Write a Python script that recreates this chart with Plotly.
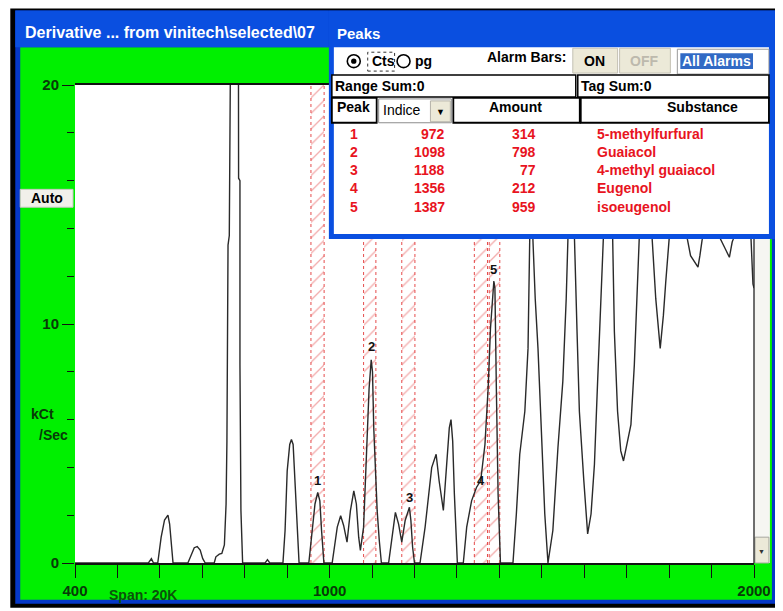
import plotly.graph_objects as go

# ---------------- data ----------------
trace_x = [400, 573, 580, 585, 595, 603, 611, 619, 623, 627, 631,
           666, 674, 681, 688, 695, 701, 707,
           728, 732, 740, 746, 752, 756, 758, 759.6, 760.6, 763.6, 765, 766, 775, 784.5, 785.5, 788.7, 788.7, 791, 795,
           848, 853.5, 859,
           890, 895, 900, 906, 910, 914, 918.5, 922.5, 926, 928,
           951, 959, 965.5, 972, 977, 981, 986.5,
           1006, 1018, 1026, 1033, 1041, 1049, 1057, 1063, 1068.5, 1072.5, 1080, 1086, 1093, 1098, 1101, 1104, 1109, 1112, 1117, 1122,
           1139, 1147, 1155, 1162.5, 1170, 1178, 1188, 1191.5, 1195.5, 1200,
           1213, 1225, 1233, 1240.5, 1251, 1258, 1268, 1276, 1282, 1286, 1290, 1294, 1298, 1301,
           1315, 1323, 1334.5, 1346, 1356, 1366, 1373.5, 1379, 1387, 1389.5, 1393, 1397, 1402.5,
           1432, 1440, 1448, 1460, 1467.5, 1471.5, 1475, 1479, 1484.5, 1491, 1499, 1507, 1514.5,
           1526, 1538, 1549.5, 1557.5, 1561.5, 1569, 1577, 1583, 1588.5, 1599, 1608,
           1616, 1624, 1631.5, 1639.5, 1643.5, 1655, 1667, 1671, 1678.5, 1686, 1692.5,
           1700.5, 1710, 1718, 1724, 1729.5, 1745, 1760.5, 1768.5, 1779,
           1786.5, 1792, 1800, 1820, 1843, 1850.5, 1868, 1872.5, 1878, 1900, 1921,
           1932.5, 1942, 1948.5, 1951, 1972, 1993, 1997.5, 2000]
trace_y = [0, 0, 0.18, 0, 0, 1.08, 1.8, 2.0, 1.63, 0.8, 0,
           0, 0.33, 0.64, 0.69, 0.54, 0.18, 0,
           0, 0.26, 0.37, 0.4, 0.76, 2.47, 5.1, 8.3, 13.3, 13.7, 19.9, 30, 45, 30, 16.1, 16.0, 8.3, 2.2, 0,
           0, 0.14, 0,
           0, 1.36, 3.85, 4.96, 5.17, 4.96, 3.3, 1.63, 0.12, 0,
           0, 1.36, 2.47, 2.95, 2.6, 1.36, 0,
           0, 1.5, 1.98, 1.57, 0.87, 2.19, 3.02, 2.47, 1.08, 0.53, 1.5, 4.27, 7.3, 8.5, 8.0, 5.65, 3.58, 2.19, 0.94, 0,
           0, 1.08, 2.12, 1.63, 0.87, 1.78, 2.33, 1.78, 0.67, 0,
           0, 1.5, 2.88, 3.99, 4.55, 3.44, 2.2, 3.99, 5.65, 6.0, 5.1, 2.88, 0.8, 0,
           0, 1.5, 2.6, 3.16, 3.45, 4.96, 7.3, 9.8, 11.8, 11.5, 7.2, 2.88, 0,
           0, 2.05, 4.55, 6.35, 8.98, 13.55, 17, 13.55, 11.06, 8.98, 5.5, 2.05, 0,
           1.36, 4.82, 7.6, 11.06, 13.55, 17, 13.55, 9.68, 6.35, 3.44, 1.22,
           2.05, 4.13, 7.6, 11.06, 13.55, 18, 13.55, 9.68, 6.35, 4.69, 4.27,
           4.96, 5.79, 8.29, 11.06, 13.55, 18, 13.55, 11.06, 8.98,
           10.37, 11.75, 13.55, 17, 13.55, 12.86, 12.38, 12.86, 13.55, 17, 13.55,
           13.14, 12.79, 13.42, 13.55, 17, 13.55, 11.68, 11.5]

band_left = [956, 1080, 1170, 1341, 1376]
band_right = [987, 1109, 1201, 1372, 1401]

peak_no = ["1", "2", "3", "4", "5"]
peak_indice = [972, 1098, 1188, 1356, 1387]
peak_amount = [314, 798, 77, 212, 959]
peak_substance = ["5-methylfurfural", "Guaiacol", "4-methyl guaiacol", "Eugenol", "isoeugenol"]
peak_label_y = [3.45, 9.06, 2.74, 3.45, 12.3]

x_range = [400, 2000]
y_range = [0, 20]
x_major = [400, 1000, 2000]
x_minor = list(range(400, 2001, 100))
y_major = [0, 10, 20]
y_minor = [2, 4, 6, 8, 12, 14, 16, 18]

# ---------------- geometry (screen pixels; page body has an 8px offset) ----------------
SCR_W, SCR_H = 783, 611
OFF = 8
W, H = SCR_W - OFF, SCR_H - OFF
PLOT_L, PLOT_R, PLOT_T, PLOT_B = 75, 757, 85, 566   # screen px
PW, PH = PLOT_R - PLOT_L, PLOT_B - PLOT_T


def X(px):
    return (px - PLOT_L) / PW


def Y(py):
    return (PLOT_B - py) / PH


FONT = "Liberation Sans"
GREEN = "#00f000"
DKGREEN = "#083a08"
RED = "#e8141e"
BLUE = "#0a4fe0"
BORDER_BLUE = "#0638c8"

fig = go.Figure()

# hatched alarm bands
centers = [(a + b) / 2 for a, b in zip(band_left, band_right)]
widths = [b - a for a, b in zip(band_left, band_right)]
fig.add_trace(go.Bar(
    x=centers, y=[y_range[1]] * len(centers), width=widths, base=0,
    marker=dict(color="rgba(0,0,0,0)", line=dict(width=0),
                pattern=dict(shape="/", fgcolor="rgba(225,45,45,0.8)",
                             bgcolor="rgba(0,0,0,0)", size=11, solidity=0.12)),
    showlegend=False, hoverinfo="skip"))

# chromatogram
fig.add_trace(go.Scatter(x=trace_x, y=trace_y, mode="lines",
                         line=dict(color="#2a2a2a", width=1.4),
                         showlegend=False, hoverinfo="skip"))

shapes = []


def rect(x0, y0, x1, y1, fill, line=None, lw=0, layer="below", dash=None):
    d = dict(type="rect", xref="paper", yref="paper",
             x0=X(x0), x1=X(x1), y0=Y(y1), y1=Y(y0),
             fillcolor=fill, layer=layer,
             line=dict(color=line or "rgba(0,0,0,0)", width=lw))
    if dash:
        d["line"]["dash"] = dash
    shapes.append(d)


# window frame
rect(10, 8, 783, 611, "black")
rect(15, 10, 779, 607, BORDER_BLUE)
rect(20, 47, 775, 603, GREEN)
rect(15, 10, 330, 47, BLUE)
# plot area
rect(PLOT_L, PLOT_T, PLOT_R, PLOT_B, "white")
# scrollbar
rect(757, 240, 773, 566, "#f6f6f2")
rect(758, 540, 772, 566, "#ece9d8", "#a8a8a0", 1)
# auto button
rect(20, 190, 73, 208, "#f1f0ea", "#c8c8c0", 1)

# dotted band edges
for a, b in zip(band_left, band_right):
    for xv in (a, b):
        shapes.append(dict(type="line", xref="x", yref="y", x0=xv, x1=xv,
                           y0=y_range[0], y1=y_range[1], layer="below",
                           line=dict(color="rgba(225,45,45,0.85)", width=1, dash="dot")))

# right border of the plot
shapes.append(dict(type="line", xref="paper", yref="paper", x0=1, x1=1, y0=0, y1=1,
                   layer="above", line=dict(color="#222", width=1.3)))

# Peaks panel
rect(330, 10, 778, 240, BLUE, layer="above")
rect(335, 47, 772, 235, "white", layer="above")
rect(575, 48, 620, 73, "#ece9d8", "#c4c1b4", 1, layer="above")
rect(622, 48, 673, 73, "#ece9d8", "#c4c1b4", 1, layer="above")
rect(680, 49, 772, 74, "white", "#9a9a9a", 1, layer="above")
rect(683, 53, 756, 69, "#316ac5", layer="above")
rect(369, 52, 396, 71, "rgba(0,0,0,0)", "#333", 1, layer="above", dash="dot")
shapes.append(dict(type="circle", xref="paper", yref="paper", layer="above",
                   x0=X(348.5), x1=X(361.5), y0=Y(67.5), y1=Y(54.5),
                   fillcolor="white", line=dict(color="black", width=1.6)))
shapes.append(dict(type="circle", xref="paper", yref="paper", layer="above",
                   x0=X(352.3), x1=X(357.7), y0=Y(63.7), y1=Y(58.3),
                   fillcolor="black", line=dict(color="black", width=0)))
shapes.append(dict(type="circle", xref="paper", yref="paper", layer="above",
                   x0=X(398.5), x1=X(411.5), y0=Y(67.5), y1=Y(54.5),
                   fillcolor="white", line=dict(color="black", width=1.6)))
rect(333, 75, 578, 97, "white", "black", 1.5, layer="above")
rect(580, 75, 772, 97, "white", "black", 1.5, layer="above")
rect(333, 98, 378, 123, "white", "black", 1.8, layer="above")
rect(380, 99, 453, 123, "white", "#8c8c8c", 1, layer="above")
rect(432, 101, 452, 122, "#ece9d8", "#b4b2a8", 1, layer="above")
rect(455, 98, 582, 123, "white", "black", 1.8, layer="above")
rect(583, 98, 772, 123, "white", "black", 1.8, layer="above")

ann = []


def text(px, py, s, size=14, color="black", xanchor="left", bold=True):
    ann.append(dict(xref="paper", yref="paper", x=X(px), y=Y(py),
                    text=f"<b>{s}</b>" if bold else s, showarrow=False,
                    xanchor=xanchor, yanchor="middle",
                    font=dict(family=FONT, size=size, color=color)))


text(23, 32, "Derivative ... from vinitech\\selected\\07", 16, "white")
text(336, 33, "Peaks", 15, "white")
text(371, 61, "Cts")
text(414, 61, "pg")
text(528, 57, "Alarm Bars:", xanchor="center")
text(597, 61, "ON", xanchor="center")
text(647, 61, "OFF", color="#bdb9ad", xanchor="center")
text(719, 61, "All Alarms", color="white", xanchor="center")
text(334, 86, "Range Sum:0")
text(581, 86, "Tag Sum:0")
text(355, 107, "Peak", xanchor="center")
text(382, 110, "Indice", bold=False)
text(442, 112, "▼", 9, xanchor="center", bold=False)
text(517, 107, "Amount", xanchor="center")
text(705, 107, "Substance", xanchor="center")

row_y = [134, 152.3, 170.7, 189, 207.3]
for i in range(len(peak_no)):
    yy = row_y[i]
    text(355, yy, peak_no[i], color=RED, xanchor="center")
    text(449, yy, str(peak_indice[i]), color=RED, xanchor="right")
    text(540, yy, str(peak_amount[i]), color=RED, xanchor="right")
    text(597, yy, peak_substance[i], color=RED)

text(46.5, 199, "Auto", xanchor="center")
text(29, 416, "kCt", color=DKGREEN)
text(37, 437, "/Sec", color=DKGREEN)
text(107, 598, "Span: 20K", color="#0b520b")
text(765, 554, "▼", 7, color="#333", xanchor="center", bold=False)

# peak number labels on the trace
for i in range(len(peak_no)):
    ann.append(dict(xref="x", yref="y", x=peak_indice[i], y=peak_label_y[i],
                    text=f"<b>{peak_no[i]}</b>", showarrow=False,
                    font=dict(family=FONT, size=13, color="#111")))

fig.update_layout(
    width=W, height=H,
    margin=dict(l=PLOT_L - OFF, r=SCR_W - PLOT_R, t=PLOT_T - OFF, b=SCR_H - PLOT_B, pad=0),
    paper_bgcolor="white", plot_bgcolor="white",
    barmode="overlay", bargap=0,
    shapes=shapes, annotations=ann,
    hovermode=False,
    xaxis=dict(range=x_range, showgrid=False, zeroline=False,
               showline=True, mirror=True, linecolor="#111", linewidth=1.5,
               tickmode="array", tickvals=x_major, ticktext=[str(v) for v in x_major],
               ticks="outside", ticklen=13, tickwidth=1.3, tickcolor="#111",
               tickfont=dict(family=FONT, size=15, color=DKGREEN, weight="bold"),
               minor=dict(tickvals=x_minor, ticks="outside", ticklen=13,
                          tickwidth=1.3, tickcolor="#111", showgrid=False)),
    yaxis=dict(range=y_range, showgrid=False, zeroline=False, showline=False,
               tickmode="array", tickvals=y_major, ticktext=[str(v) for v in y_major],
               ticks="outside", ticklen=12, tickwidth=1.3, tickcolor="#111",
               tickfont=dict(family=FONT, size=15, color=DKGREEN, weight="bold"),
               minor=dict(tickvals=y_minor, ticks="outside", ticklen=7,
                          tickwidth=1.3, tickcolor="#111", showgrid=False)),
)

fig.write_html("out.html", config={"displayModeBar": False})
